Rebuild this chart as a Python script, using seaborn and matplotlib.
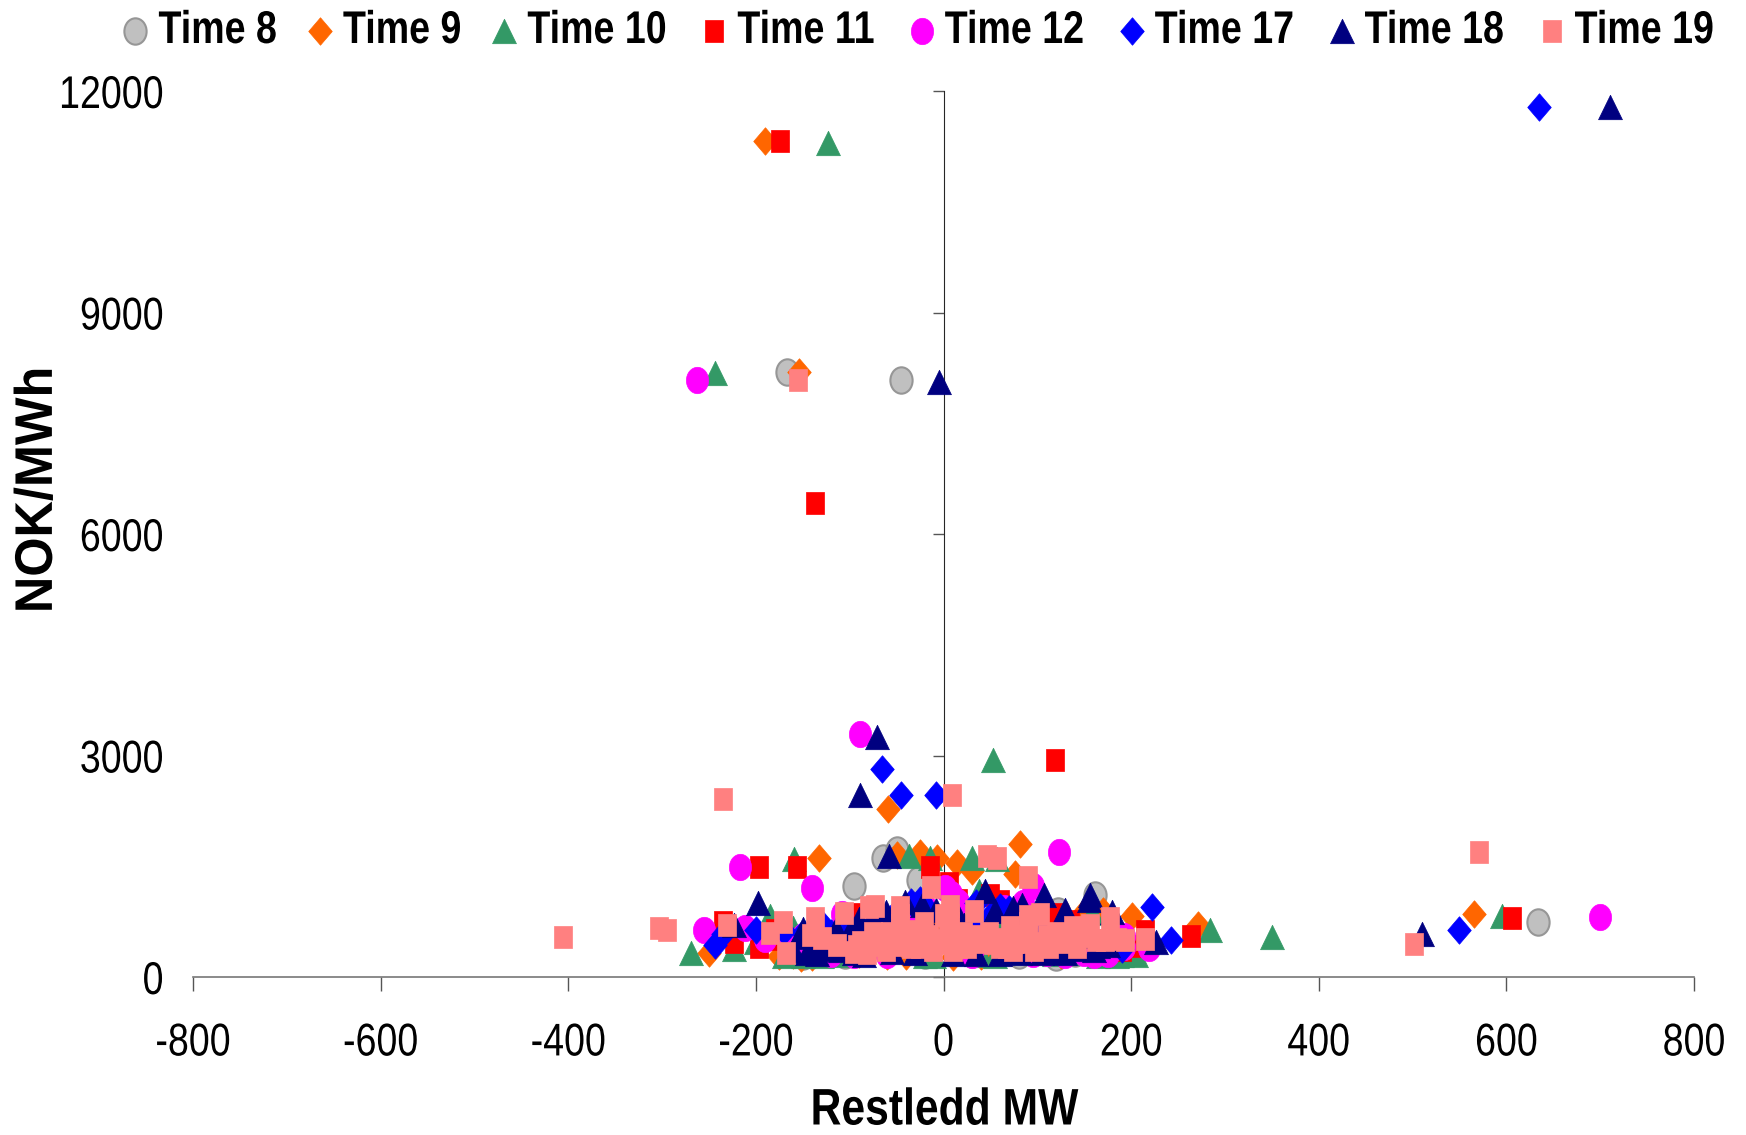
import pandas as pd
import matplotlib
matplotlib.use("Agg")
import matplotlib.pyplot as plt
import seaborn as sns
from matplotlib.markers import MarkerStyle
from matplotlib.patheffects import AbstractPathEffect
from matplotlib.transforms import Affine2D

# punkter lest av figuren: (restledd MW, NOK/MWh)
time_8 = [(-167, 8196), (-45, 8090), (-95, 1238), (-65, 1615), (-50, 1720), (-27, 1313), (161, 1117), (634, 740),
          (120, 270), (122, 900), (-150, 290), (-105, 300), (-60, 320), (-20, 300), (30, 310), (80, 300),
          (140, 320), (-125, 350), (55, 340)]
time_9 = [(-190, 11320), (-154, 8196), (-59, 2280), (82, 1796), (-133, 1615), (14, 1540), (565, 860), (271, 710),
          (201, 830), (76, 1390), (30, 1434), (-25, 1675), (-7, 1615), (-50, 1650), (-250, 330), (-152, 260),
          (-20, 830), (-35, 950), (-100, 620), (125, 300), (-175, 280), (-140, 270), (-90, 310), (-60, 290),
          (-10, 760), (40, 280), (150, 880), (170, 900), (110, 340), (-160, 300), (-40, 280), (10, 270)]
time_10 = [(-123, 11300), (-244, 8180), (53, 2943), (-159, 1600), (-37, 1645), (30, 1615), (57, 1600), (-14, 1615),
           (-269, 330), (-223, 377), (284, 634), (350, 543), (595, 830), (-185, 830), (38, 1160), (-200, 480),
           (-130, 290), (-170, 290), (-150, 290), (-110, 300), (-20, 280), (-10, 280), (40, 300), (55, 290),
           (65, 700), (150, 320), (165, 280), (185, 290), (205, 300), (-100, 620), (30, 880), (-75, 840),
           (118, 310), (190, 300), (158, 870), (-160, 660)]
time_11 = [(-174, 11320), (-137, 6415), (119, 2943), (-197, 1494), (-156, 1494), (-14, 1494), (6, 1268), (606, 800),
           (264, 558), (215, 619), (-235, 740), (-223, 468), (-197, 407), (-95, 860), (50, 1117), (-180, 640),
           (-180, 520), (-120, 480), (-60, 620), (15, 1040), (120, 860), (135, 760), (170, 480), (190, 360),
           (205, 420), (155, 350), (-145, 390), (85, 520), (60, 1030)]
time_12 = [(-263, 8090), (-89, 3290), (123, 1690), (-217, 1494), (-140, 1208), (-255, 634), (-212, 664), (-108, 860),
           (2, 1208), (95, 1238), (700, 815), (219, 392), (192, 558), (65, 940), (8, 1130), (15, 1010),
           (-190, 520), (-165, 450), (-155, 400), (-150, 560), (-95, 300), (-30, 860), (30, 300), (130, 300),
           (150, 320), (170, 360), (-60, 300), (85, 1000), (192, 410), (95, 310), (-20, 950), (160, 300),
           (175, 310), (110, 320), (-120, 310)]
time_17 = [(635, 11790), (-66, 2822), (-45, 2460), (-8, 2460), (222, 950), (242, 498), (549, 634), (-244, 438),
           (-235, 589), (-170, 620), (-130, 720), (-105, 740), (-75, 720), (-35, 1010), (-25, 1040), (-15, 900),
           (60, 950), (70, 920), (85, 800), (50, 820), (40, 700), (-150, 600), (-90, 530), (190, 380),
           (5, 560), (30, 640), (100, 720), (-200, 640), (-120, 600), (-50, 900), (35, 1000)]
time_18 = [(710, 11790), (-5, 8060), (-71, 3245), (-89, 2460), (-58, 1645), (-198, 996), (107, 1117), (155, 1040),
           (44, 1162), (510, 589), (226, 468), (-223, 710), (-41, 1020), (-23, 975), (-61, 885), (-8, 908),
           (74, 935), (84, 975), (130, 908), (156, 1111), (-153, 540), (-160, 360), (-145, 330), (-135, 310),
           (-125, 380), (-110, 360), (-100, 620), (-95, 320), (-85, 300), (-70, 460), (-55, 340), (-40, 680),
           (-30, 320), (-15, 420), (0, 620), (10, 310), (22, 700), (35, 310), (48, 720), (60, 310), (68, 500),
           (82, 320), (96, 540), (105, 330), (120, 460), (140, 380), (155, 560), (165, 420), (180, 880),
           (-150, 650), (-135, 500), (-115, 650), (-105, 480), (-90, 780), (-75, 820), (-50, 520), (-20, 800),
           (15, 820), (40, 560), (55, 900), (75, 650), (115, 340), (130, 330), (160, 370), (175, 440)]
time_19 = [(-155, 8090), (9, 2460), (-235, 2415), (571, 1690), (501, 453), (-406, 543), (-303, 664), (-295, 634),
           (-231, 704), (-171, 749), (-185, 591), (-168, 330), (-137, 795), (-141, 569), (-130, 524), (-113, 433),
           (-106, 871), (-79, 944), (-73, 962), (-95, 343), (-82, 330), (-75, 591), (-46, 953), (-46, 704),
           (-61, 366), (-57, 591), (-43, 591), (-21, 727), (-13, 1214), (-25, 411), (-11, 366), (7, 962), (0, 840),
           (7, 727), (21, 591), (33, 894), (42, 501), (25, 411), (10, 366), (-4, 456), (71, 682), (90, 727),
           (103, 849), (90, 591), (74, 366), (120, 591), (106, 456), (138, 682), (156, 704), (177, 804), (172, 501),
           (193, 501), (215, 510), (142, 411), (96, 366), (60, 411), (46, 1639), (57, 1607), (90, 1350), (163, 501),
           (53, 456), (-35, 500), (-5, 500), (35, 480), (75, 480), (130, 500),
           (-88, 470), (-70, 440), (-52, 440), (-30, 620), (-15, 560), (5, 560), (18, 500), (30, 560), (48, 590),
           (62, 520), (84, 470), (110, 560), (125, 470), (150, 560), (185, 510), (-46, 840), (-46, 610), (7, 840),
           (72, 570), (90, 830), (-92, 420), (-65, 520), (-35, 400), (15, 400), (68, 400), (112, 400)]

series_names = ["Time 8", "Time 9", "Time 10", "Time 11", "Time 12", "Time 17", "Time 18", "Time 19"]
series_points = [time_8, time_9, time_10, time_11, time_12, time_17, time_18, time_19]
fill_colors = ["#C0C0C0", "#FF6600", "#339966", "#FF0000", "#FF00FF", "#0000FF", "#000080", "#FF8080"]
edge_colors = ["#969696", "#FF6600", "#339966", "#FF0000", "#FF00FF", "#0000FF", "#000080", "#FF8080"]
x_ticks = [-800, -600, -400, -200, 0, 200, 400, 600, 800]
y_ticks = [0, 3000, 6000, 9000, 12000]


# ingen smal skrift tilgjengelig, saa teksten klemmes i bredden
class Squeeze(AbstractPathEffect):
    def __init__(self, sx=0.82, anchor="center"):
        super().__init__()
        self.sx = sx
        self.anchor = anchor

    def draw_path(self, renderer, gc, tpath, affine, rgbFace=None):
        box = tpath.get_extents(affine)
        a = {"left": box.x0, "center": (box.x0 + box.x1) / 2, "right": box.x1}[self.anchor]
        squeezed = affine + Affine2D().translate(-a, 0).scale(self.sx, 1).translate(a, 0)
        renderer.draw_path(gc, tpath, squeezed, rgbFace)


# figuren er klemt sammen i bredden, saa markorene maa ogsaa vaere det
circle = MarkerStyle("o", transform=Affine2D().scale(0.80, 0.95))
diamond = MarkerStyle("D", transform=Affine2D().scale(0.60, 0.70))
triangle = MarkerStyle("^", transform=Affine2D().scale(0.86, 0.88))
square = MarkerStyle("s", transform=Affine2D().scale(0.66, 0.78))
series_markers = [circle, diamond, triangle, square, circle, diamond, triangle, square]

sns.set_style("white")
plt.rcParams["font.family"] = ["Liberation Sans"]
plt.rcParams["axes.unicode_minus"] = False
plt.rcParams["text.color"] = "black"
plt.rcParams["xtick.color"] = "black"
plt.rcParams["ytick.color"] = "black"

fig = plt.figure(figsize=(17.46, 11.35), dpi=100)
ax = fig.add_axes([193 / 1746, 1 - 977 / 1135, (1694 - 193) / 1746, (977 - 91) / 1135])

for name, points, fill, edge, marker in zip(series_names, series_points, fill_colors, edge_colors, series_markers):
    df = pd.DataFrame(points, columns=["mw", "nok"])
    sns.scatterplot(data=df, x="mw", y="nok", ax=ax, marker=marker, s=400, color=fill,
                    edgecolor=edge, linewidth=1.5 if name == "Time 8" else 0.5, label=name, clip_on=False, zorder=2)

ax.set_xlim(-800, 800)
ax.set_ylim(0, 12000)
ax.set_xticks(x_ticks)
ax.set_yticks(y_ticks)
ax.tick_params(axis="x", length=10, width=1, color="#555555", labelsize=33, pad=22, bottom=True)
ax.tick_params(axis="y", length=0, labelsize=33, pad=21)
for label in ax.get_xticklabels():
    label.set_path_effects([Squeeze(0.82, "center")])
for label in ax.get_yticklabels():
    label.set_path_effects([Squeeze(0.82, "right")])

for side in ["top", "right", "left"]:
    ax.spines[side].set_visible(False)
ax.spines["bottom"].set_color("#777777")
ax.spines["bottom"].set_linewidth(1.2)

# y-aksen staar ved x=0, tallene staar helt til venstre
mid_axis = ax.secondary_yaxis(0.5)
mid_axis.yaxis.tick_left()
mid_axis.set_yticks(y_ticks)
mid_axis.yaxis.set_ticklabels([])
mid_axis.tick_params(axis="y", length=8, width=1, color="#555555", left=True, right=False)
mid_axis.spines["left"].set_color("#555555")
mid_axis.spines["left"].set_linewidth(1.2)
mid_axis.set_zorder(1)

ax.set_xlabel("")
ax.set_ylabel("")
x_title = fig.text(944 / 1746, 1 - 1111 / 1135, "Restledd MW", fontsize=37, fontweight="bold", ha="center", va="center")
x_title.set_path_effects([Squeeze(0.83, "center")])
y_title = fig.text(38 / 1746, 1 - 490 / 1135, "NOK/MWh", fontsize=36.3, fontweight="bold",
                   rotation=90, ha="center", va="center")
y_title.set_path_effects([Squeeze(1.05, "center")])

leg = ax.legend(loc="center left", bbox_to_anchor=(124 / 1746, 1 - 31 / 1135), bbox_transform=fig.transFigure,
                ncol=8, frameon=False, borderpad=0, borderaxespad=0, handlelength=0.5, handletextpad=0.25,
                columnspacing=0.12, scatterpoints=1, prop={"size": 33, "weight": "bold"})
for text in leg.get_texts():
    text.set_path_effects([Squeeze(0.82, "left")])

fig.savefig("out.png", dpi=100)
